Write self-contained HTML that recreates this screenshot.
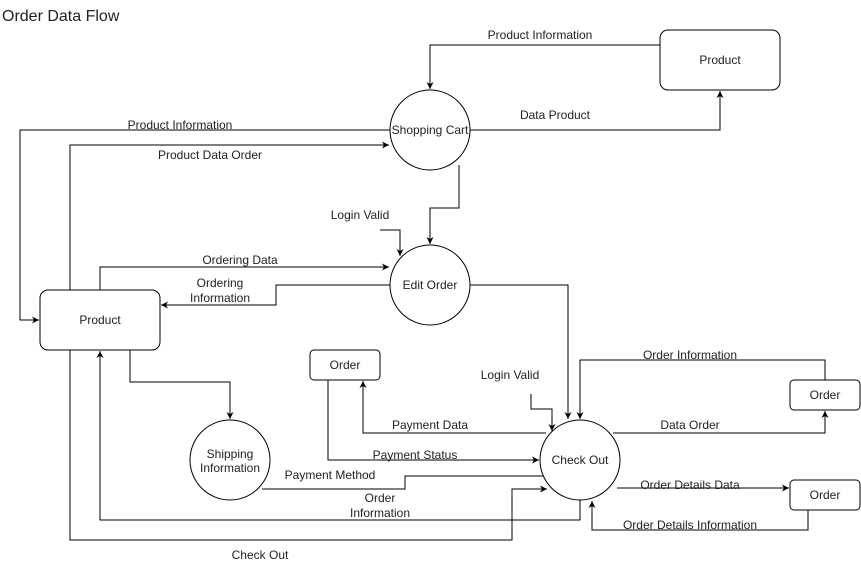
<!DOCTYPE html>
<html><head><meta charset="utf-8"><style>
html,body{margin:0;padding:0;background:#fff;}
svg{display:block;}
text{font-family:"Liberation Sans",Arial,sans-serif;font-size:12px;fill:#222;}
</style></head><body>
<svg width="861" height="570" viewBox="0 0 861 570" xmlns="http://www.w3.org/2000/svg">
<defs>
<marker id="a" markerWidth="8" markerHeight="8" refX="7" refY="4" orient="auto" markerUnits="userSpaceOnUse">
<path d="M0,0.5 L7,4 L0,7.5 L2,4 Z" fill="#000"/></marker>
</defs>
<text x="2" y="21" style="font-size:16px">Order Data Flow</text>
<g fill="#fff" stroke="#000" stroke-width="1">
<rect x="660" y="30" width="120" height="60" rx="8"/>
<rect x="40" y="290" width="120" height="60" rx="8"/>
<rect x="310" y="350" width="70" height="30" rx="4"/>
<rect x="790" y="380" width="70" height="30" rx="4"/>
<rect x="790" y="480" width="70" height="30" rx="4"/>
<circle cx="430" cy="130" r="40"/>
<circle cx="430" cy="285" r="40"/>
<circle cx="230" cy="460" r="40"/>
<circle cx="580" cy="460" r="40"/>
</g>
<g fill="none" stroke="#000" stroke-width="1">
<path d="M660,45 H430 V89" marker-end="url(#a)"/>
<path d="M470,130 H720 V91" marker-end="url(#a)"/>
<path d="M390,130 H20 V320 H39" marker-end="url(#a)"/>
<path d="M70,290 V145 H389" marker-end="url(#a)"/>
<path d="M459,165 V208 H430 V244" marker-end="url(#a)"/>
<path d="M380,230 H400 V256" marker-end="url(#a)"/>
<path d="M100,290 V267 H389" marker-end="url(#a)"/>
<path d="M390,285 H276 V305 H161" marker-end="url(#a)"/>
<path d="M470,285 H568 V419" marker-end="url(#a)"/>
<path d="M130,350 V382 H230 V419" marker-end="url(#a)"/>
<path d="M328,380 V460 H539" marker-end="url(#a)"/>
<path d="M546,433 H363 V381" marker-end="url(#a)"/>
<path d="M531,394 V409 H552 V431" marker-end="url(#a)"/>
<path d="M825,380 V360 H580 V419" marker-end="url(#a)"/>
<path d="M613,433 H825 V411" marker-end="url(#a)"/>
<path d="M617,488 H789" marker-end="url(#a)"/>
<path d="M808,510 V530 H592 V501" marker-end="url(#a)"/>
<path d="M262,489 H405 V476 H543"/>
<path d="M580,500 V520 H100 V351" marker-end="url(#a)"/>
<path d="M70,350 V540 H512 V489 H547" marker-end="url(#a)"/>
</g>
<g text-anchor="middle">
<text x="720" y="64">Product</text>
<text x="100" y="324">Product</text>
<text x="345" y="369">Order</text>
<text x="825" y="399">Order</text>
<text x="825" y="499">Order</text>
<text x="430" y="134">Shopping Cart</text>
<text x="430" y="289">Edit Order</text>
<text x="230" y="458">Shipping</text>
<text x="230" y="472">Information</text>
<text x="580" y="464">Check Out</text>
<text x="540" y="39">Product Information</text>
<text x="555" y="119">Data Product</text>
<text x="180" y="129">Product Information</text>
<text x="210" y="159">Product Data Order</text>
<text x="360" y="219">Login Valid</text>
<text x="240" y="264">Ordering Data</text>
<text x="220" y="287">Ordering</text>
<text x="220" y="302">Information</text>
<text x="510" y="379">Login Valid</text>
<text x="690" y="359">Order Information</text>
<text x="430" y="429">Payment Data</text>
<text x="690" y="429">Data Order</text>
<text x="415" y="459">Payment Status</text>
<text x="330" y="479">Payment Method</text>
<text x="690" y="489">Order Details Data</text>
<text x="380" y="502">Order</text>
<text x="380" y="517">Information</text>
<text x="690" y="529">Order Details Information</text>
<text x="260" y="559">Check Out</text>
</g>
</svg>
</body></html>
